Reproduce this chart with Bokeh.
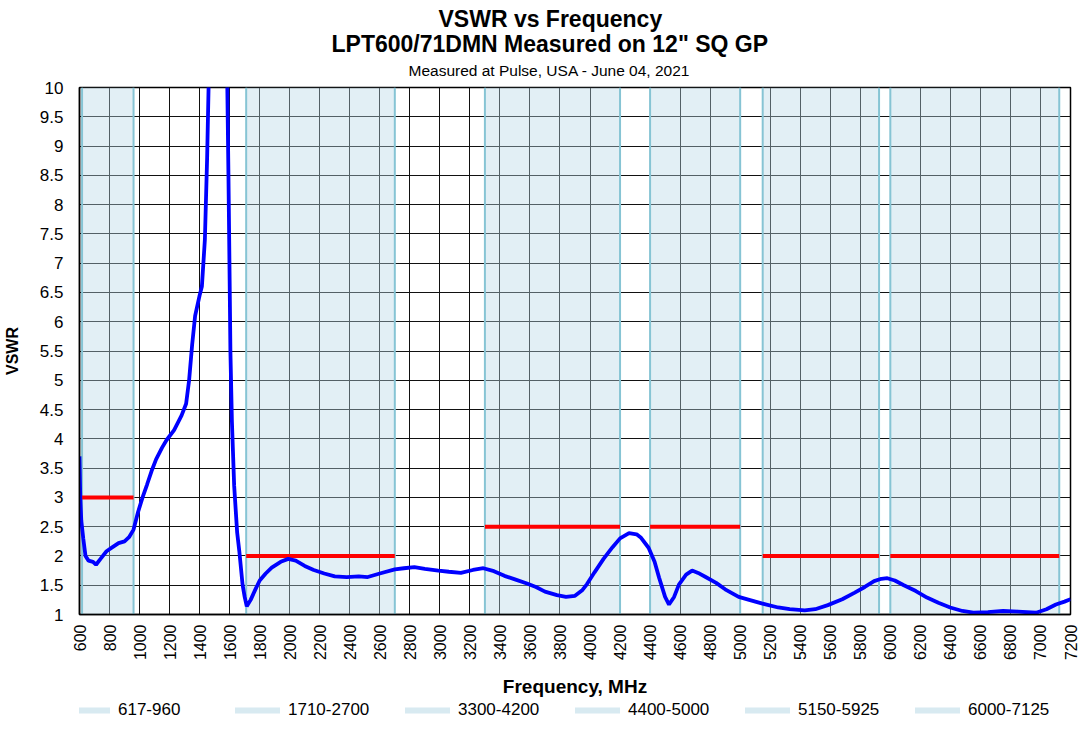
import numpy as np
from bokeh.plotting import figure
from bokeh.layouts import column
from bokeh.models import (Range1d, Title, Legend, LegendItem, CustomJSTickFormatter,
                          FixedTicker)
from bokeh.embed import file_html
from bokeh.resources import INLINE

# ---------------- data ----------------
freq = [600, 605, 612, 625, 640, 660, 690, 710, 740, 780, 820, 860, 900, 930, 960,
        990, 1020, 1050, 1080, 1110, 1150, 1180, 1230, 1280, 1310, 1330, 1350, 1370,
        1400, 1415, 1435, 1450, 1462, 1480, 1520, 1560, 1582, 1592, 1600, 1605, 1615,
        1630, 1650, 1664, 1686, 1700, 1714, 1740, 1770, 1800, 1840, 1880, 1940, 1990,
        2040, 2100, 2160, 2230, 2300, 2380, 2460, 2520, 2600, 2700, 2760, 2830, 2900,
        2990, 3060, 3140, 3220, 3290, 3360, 3430, 3500, 3580, 3640, 3700, 3780, 3840,
        3900, 3950, 3980, 4030, 4090, 4150, 4200, 4260, 4310, 4340, 4390, 4430, 4460,
        4500, 4526, 4560, 4592, 4640, 4680, 4720, 4770, 4840, 4900, 4990, 5060, 5143,
        5253, 5330, 5430, 5500, 5584, 5680, 5760, 5830, 5892, 5940, 5980, 6030, 6090,
        6170, 6244, 6320, 6399, 6480, 6553, 6650, 6751, 6850, 6971, 7040, 7103, 7160,
        7200]
vswr = [3.70, 3.00, 2.60, 2.30, 2.00, 1.92, 1.90, 1.85, 1.95, 2.08, 2.15, 2.22, 2.25,
        2.32, 2.45, 2.75, 3.00, 3.22, 3.45, 3.65, 3.85, 3.98, 4.15, 4.40, 4.60, 5.00,
        5.60, 6.10, 6.45, 6.60, 7.40, 8.80, 10.30, 14.0, 20.0, 15.0, 10.5, 8.5, 6.7,
        5.5, 4.3, 3.2, 2.4, 2.09, 1.51, 1.30, 1.14, 1.25, 1.42, 1.58, 1.70, 1.80, 1.90,
        1.95, 1.92, 1.83, 1.76, 1.70, 1.65, 1.64, 1.65, 1.64, 1.70, 1.77, 1.79, 1.81,
        1.78, 1.75, 1.73, 1.71, 1.76, 1.79, 1.74, 1.66, 1.60, 1.53, 1.47, 1.39, 1.33,
        1.30, 1.32, 1.42, 1.52, 1.72, 1.95, 2.15, 2.30, 2.39, 2.37, 2.31, 2.14, 1.90,
        1.63, 1.30, 1.17, 1.30, 1.51, 1.68, 1.75, 1.71, 1.64, 1.54, 1.43, 1.30, 1.25,
        1.19, 1.12, 1.09, 1.07, 1.09, 1.16, 1.26, 1.37, 1.47, 1.57, 1.61, 1.62, 1.58,
        1.50, 1.40, 1.29, 1.20, 1.12, 1.06, 1.03, 1.04, 1.06, 1.05, 1.03, 1.09, 1.17,
        1.22, 1.26]

band_labels = ["617-960", "1710-2700", "3300-4200", "4400-5000", "5150-5925", "6000-7125"]
band_lo = [617, 1710, 3300, 4400, 5150, 6000]
band_hi = [960, 2700, 4200, 5000, 5925, 7125]
band_limit = [3.0, 2.0, 2.5, 2.5, 2.0, 2.0]

x_min, x_max = 600, 7200
y_min, y_max = 1, 10
x_ticks = list(range(600, 7201, 200))
y_ticks = [1 + 0.5 * i for i in range(19)]

title_lines = ["VSWR vs Frequency", 'LPT600/71DMN Measured on 12" SQ GP',
               "Measured at Pulse, USA - June 04, 2021"]

FONT = "Liberation Sans"
BAND_FILL = "#b7d7e6"
BAND_EDGE = "#86c4d4"
SWATCH = "#d8eaf1"

# ---------------- main figure ----------------
p = figure(width=1080, height=700, output_backend="svg", toolbar_location=None,
           x_range=Range1d(x_min, x_max), y_range=Range1d(y_min, y_max),
           min_border_left=71, min_border_right=10, min_border_top=87,
           min_border_bottom=83, background_fill_color="white")
p.title.visible = False

# bands
p.quad(left=band_lo, right=band_hi, bottom=y_min, top=y_max,
       fill_color=BAND_FILL, fill_alpha=0.4, line_color=None)
edges = band_lo + band_hi
p.segment(x0=edges, x1=edges, y0=[y_min] * len(edges), y1=[y_max] * len(edges),
          line_color=BAND_EDGE, line_width=2)

# limit lines
p.segment(x0=band_lo, x1=band_hi, y0=band_limit, y1=band_limit,
          line_color="#ff0000", line_width=4)

# measured curve
p.line(freq, vswr, line_color="#0000ff", line_width=3.8)

# grid
for g, t in ((p.xgrid, x_ticks), (p.ygrid, y_ticks)):
    g.ticker = FixedTicker(ticks=t)
    g.grid_line_color = "#111111"
    g.grid_line_alpha = 1
    g.grid_line_width = 1

p.outline_line_color = "black"
p.outline_line_width = 1.5

# axes
p.xaxis.ticker = FixedTicker(ticks=x_ticks)
p.yaxis.ticker = FixedTicker(ticks=y_ticks)
p.yaxis.formatter = CustomJSTickFormatter(code="return tick.toString();")
p.xaxis.major_label_orientation = np.pi / 2
for ax in (p.xaxis[0], p.yaxis[0]):
    ax.major_tick_out = 0
    ax.major_tick_in = 0
    ax.minor_tick_out = 0
    ax.minor_tick_in = 0
    ax.axis_line_color = "black"
    ax.axis_line_width = 1.5
    ax.major_label_text_font = FONT
    ax.major_label_text_color = "black"
    ax.axis_label_text_font = FONT
    ax.axis_label_text_font_style = "bold"
    ax.axis_label_text_color = "black"
p.xaxis.major_label_text_font_size = "16px"
p.yaxis.major_label_text_font_size = "17px"
p.xaxis.axis_label_text_font_size = "19px"
p.yaxis.axis_label_text_font_size = "16px"
p.xaxis.major_label_standoff = 10
p.yaxis.major_label_standoff = 16
p.xaxis.axis_label = "Frequency, MHz"
p.yaxis.axis_label = "VSWR"
p.xaxis.axis_label_standoff = 13
p.yaxis.axis_label_standoff = 16

# titles (first added sits closest to the plot)
p.add_layout(Title(text=title_lines[2], align="left", offset=329, standoff=17,
                   text_font=FONT, text_font_size="15.5px", text_font_style="normal",
                   text_color="black"), "above")
p.add_layout(Title(text=title_lines[1], align="left", offset=252, standoff=-11,
                   text_font=FONT, text_font_size="23px", text_font_style="bold",
                   text_color="black"), "above")
p.add_layout(Title(text=title_lines[0], align="left", offset=359, standoff=5,
                   text_font=FONT, text_font_size="23px", text_font_style="bold",
                   text_color="black"), "above")

# ---------------- legend strip ----------------
lg = figure(width=1080, height=20, output_backend="svg", toolbar_location=None,
            x_range=Range1d(0, 1), y_range=Range1d(0, 1), x_axis_type=None,
            y_axis_type=None, min_border=0, outline_line_color=None)
lg.title.visible = False
lg.xgrid.visible = False
lg.ygrid.visible = False
items = []
for lab in band_labels:
    r = lg.line(x=[0, 0], y=[-5, -5], line_color=SWATCH, line_width=6, line_cap="round")
    items.append(LegendItem(label=lab, renderers=[r]))
legend = Legend(items=items, orientation="horizontal", location=(-14, 0),
                glyph_width=45, glyph_height=14, label_standoff=8, label_width=85,
                spacing=32, padding=2, margin=0, border_line_color=None,
                background_fill_alpha=0, label_text_font=FONT,
                label_text_font_size="17px", label_text_color="black")
lg.add_layout(legend, "center")

layout = column(p, lg, spacing=0)
open("out.html", "w").write(file_html(layout, INLINE))
